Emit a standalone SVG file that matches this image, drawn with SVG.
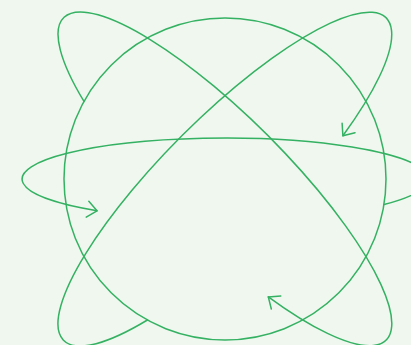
<svg xmlns="http://www.w3.org/2000/svg" width="411" height="345" viewBox="0 0 411 345">
  <style>
    .ln { fill: none; stroke: #34b162; stroke-width: 1.5; stroke-linecap: round; stroke-linejoin: round; }
  </style>
  <defs>
    <marker id="chev" markerUnits="userSpaceOnUse" viewBox="-12 -10 14 20" refX="0" refY="0" markerWidth="14" markerHeight="20" orient="auto" overflow="visible">
      <path d="M -9.6 -8 L 0 0 L -9.6 8" fill="none" stroke="#34b162" stroke-width="1.5" stroke-linecap="round" stroke-linejoin="round"/>
    </marker>
  </defs>
  <rect width="411" height="345" fill="#eff7ee"/>
  <g id="circle">
    <circle class="ln" cx="225" cy="179" r="161"/>
  </g>
  <g id="connectors">
    <path id="orbit-horizontal" class="ln" marker-end="url(#chev)" d="M 384 204.5 A 203 41 0 1 0 97 210.8"/>
    <path id="orbit-rising" class="ln" marker-end="url(#chev)" d="M 147.4 320 A 228 61 -45 1 1 342.9 135.7"/>
    <path id="orbit-falling" class="ln" marker-end="url(#chev)" d="M 84 101.4 A 228 61 45 1 1 268.3 296.9"/>
  </g>
</svg>
